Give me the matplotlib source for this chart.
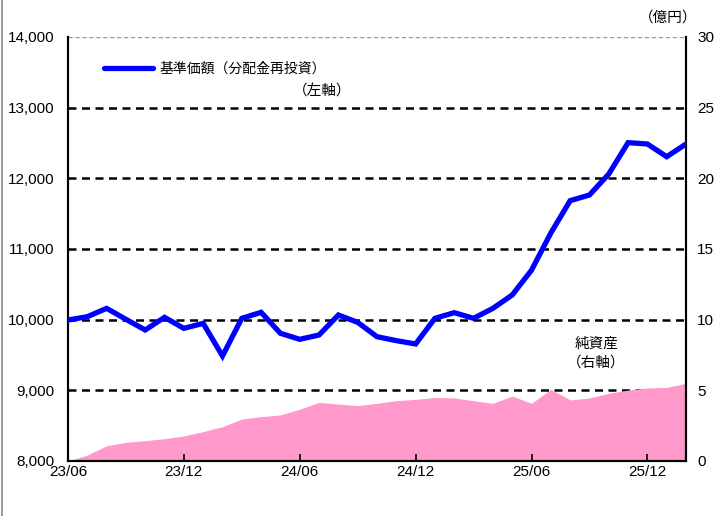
import numpy as np
import matplotlib
matplotlib.use("Agg")
import matplotlib.pyplot as plt
from matplotlib.lines import Line2D

# monthly points 23/06 .. 26/02
months = [f"{y:02d}/{m:02d}" for y in (23, 24, 25, 26) for m in range(1, 13)][5:5 + 33]

nav = [9995, 10042, 10160, 10005, 9854, 10033, 9877, 9948, 9486, 10019,
       10104, 9807, 9722, 9783, 10066, 9962, 9759, 9703, 9656, 10019,
       10099, 10019, 10160, 10349, 10700, 11226, 11684, 11764, 12061, 12505,
       12486, 12306, 12486]

net_assets = [0.0, 0.42, 1.08, 1.32, 1.44, 1.58, 1.77, 2.08, 2.43, 2.97,
              3.14, 3.26, 3.66, 4.15, 4.03, 3.92, 4.08, 4.27, 4.36, 4.50,
              4.46, 4.27, 4.08, 4.60, 4.08, 5.07, 4.32, 4.46, 4.79, 5.02,
              5.17, 5.21, 5.50]

xtick_labels = ["23/06", "23/12", "24/06", "24/12", "25/06", "25/12"]

NUM_FONT = ["Liberation Sans", "DejaVu Sans"]
JP_FONT = ["Noto Sans CJK JP", "DejaVu Sans"]
plt.rcParams["font.family"] = NUM_FONT

fig = plt.figure(figsize=(7.2, 5.16), dpi=100)
ax = fig.add_axes([0.0944, 0.1066, 0.8584, 0.8217])
ax2 = ax.twinx()

x = np.arange(len(months))

# pink area on right axis, drawn beneath
ax2.fill_between(x, 0, net_assets, color="#ff99cc", lw=0, zorder=2)
ax2.set_ylim(0, 30)
ax2.set_yticks(range(0, 31, 5))
ax2.tick_params(axis="y", length=0, labelsize=11, pad=8)

# grid on right axis so pink covers it
for v in range(5, 30, 5):
    ax2.axhline(v, color="black", lw=1.8, ls=(0, (3.2, 2.2)), zorder=1)
ax2.axhline(30, color="#999999", lw=1.0, ls=(0, (3, 2)), zorder=1)

ax.set_zorder(ax2.get_zorder() + 1)
ax.patch.set_visible(False)
ax.plot(x, nav, color="#0000ff", lw=3.8, solid_joinstyle="miter", zorder=3)
ax.set_ylim(8000, 14000)
ax.set_xlim(0, len(months) - 1)
ax.set_yticks(range(8000, 14001, 1000))
ax.set_yticklabels([f"{v:,}" for v in range(8000, 14001, 1000)])
ax.tick_params(axis="y", length=0, labelsize=11, pad=10)

tick_pos = [months.index(t) for t in xtick_labels]
ax.set_xticks(tick_pos)
ax.set_xticklabels(xtick_labels)
ax.tick_params(axis="x", direction="in", length=5, width=1.2, labelsize=11, pad=3)

for a in (ax, ax2):
    a.spines["top"].set_visible(False)
    for s in ("left", "right", "bottom"):
        a.spines[s].set_linewidth(1.5)
        a.spines[s].set_color("black")

# legend line and labels
ax.plot([1.85, 4.4], [13557, 13557], color="#0000ff", lw=3.8, solid_capstyle="round",
        clip_on=False, zorder=4)
ax.text(4.72, 13557, "基準価額（分配金再投資）", fontsize=10, family=JP_FONT,
        va="center", ha="left")
ax.text(13.16, 13222, "（左軸）", fontsize=10.5, family=JP_FONT, va="center", ha="center")
ax2.text(27.37, 8.28, "純資産", fontsize=10.5, family=JP_FONT, va="center", ha="center")
ax2.text(27.37, 6.94, "（右軸）", fontsize=10.5, family=JP_FONT, va="center", ha="center")
fig.text(0.928, 0.965, "（億円）", fontsize=10.5, family=JP_FONT, va="center", ha="center")

# left frame line of the original image
fig.add_artist(Line2D([0.003, 0.003], [0.0, 1.0], color="#888888", lw=1.2,
                      transform=fig.transFigure))

fig.savefig("out.png", dpi=100)
